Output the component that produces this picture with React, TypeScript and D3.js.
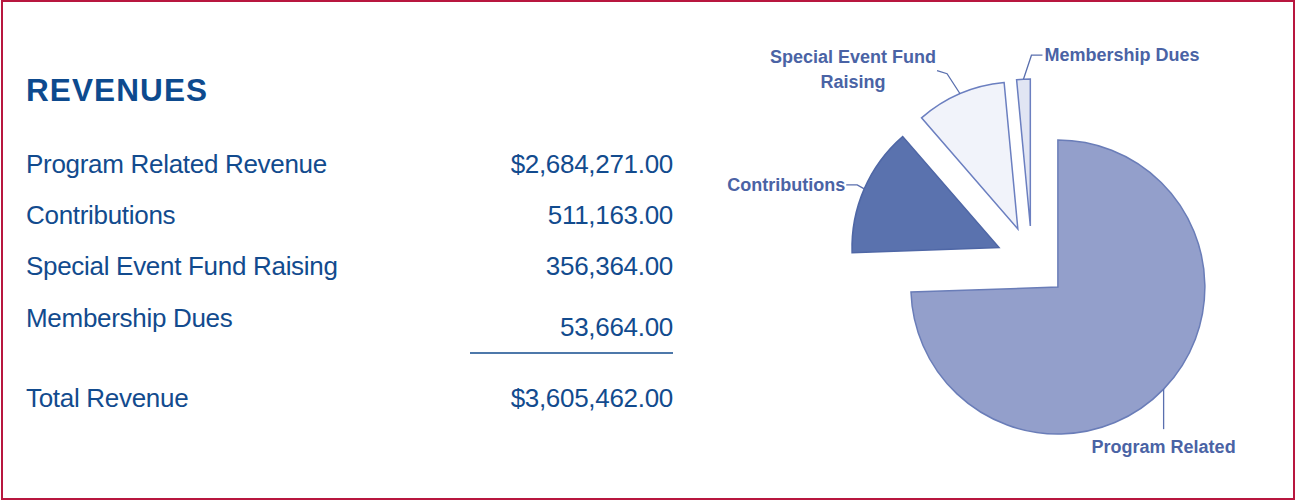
import React from "react";
import * as d3 from "d3";

// ---- data ----
const categories = [
  "Program Related Revenue",
  "Contributions",
  "Special Event Fund Raising",
  "Membership Dues",
];
const values = [2684271, 511163, 356364, 53664];
const totalLabel = "Total Revenue";
const pieLabels = [["Program Related"], ["Contributions"], ["Special Event Fund", "Raising"], ["Membership Dues"]];
const sliceFills = ["#939fcb", "#5a72ae", "#f1f3fa", "#e1e5f3"];
const sliceStrokes = ["#6a7db8", "#4f67a6", "#6b7fc0", "#6b7fc0"];

const W = 1296;
const H = 501;
const TEXT = "#124b8e";
const LABEL = "#4a63a5";
const fmt = d3.format(",.2f");

export default function App() {
  const total = d3.sum(values);
  const cx = 1032, cy = 262, R = 147, explode = 36;
  const pie = d3.pie<number>().sort(null).startAngle(0).endAngle(2 * Math.PI);
  const arcs = pie(values);
  const arcGen = d3.arc<d3.PieArcDatum<number>>().innerRadius(0).outerRadius(R);

  const rowBase = [173, 224, 275, 327];
  const valueBase = [173, 224, 275, 336];

  const slices = arcs.map((a, i) => {
    const mid = (a.startAngle + a.endAngle) / 2;
    const dx = explode * Math.sin(mid), dy = -explode * Math.cos(mid);
    const ox = cx + dx, oy = cy + dy;
    const p0: [number, number] = [ox + R * Math.sin(mid), oy - R * Math.cos(mid)];
    let pts: [number, number][] = [];
    let tx = 0, ty = 0, anchor = "middle";
    if (i === 0) {
      pts = [p0, [p0[0], p0[1] + 40]];
      tx = p0[0]; ty = p0[1] + 64; anchor = "middle";
    } else if (i === 1) {
      const p1: [number, number] = [p0[0] - 7, p0[1] - 4];
      const p2: [number, number] = [p1[0] - 11, p1[1]];
      pts = [p0, p1, p2];
      tx = p2[0] - 1; ty = p2[1] + 6; anchor = "end";
    } else if (i === 2) {
      const p1: [number, number] = [p0[0] - 13, p0[1] - 20];
      const p2: [number, number] = [p1[0] - 10, p1[1] - 3];
      pts = [p0, p1, p2];
      tx = 853; ty = p0[1] - 31; anchor = "middle";
    } else {
      const p1: [number, number] = [p0[0] + 8, p0[1] - 24];
      const p2: [number, number] = [p1[0] + 11, p1[1]];
      pts = [p0, p1, p2];
      tx = p2[0] + 2; ty = p2[1] + 6; anchor = "start";
    }
    return { a, i, ox, oy, pts, tx, ty, anchor };
  });

  const line = d3.line();

  return (
    <svg
      width={W}
      height={H}
      style={{ position: "absolute", left: 0, top: 0, background: "#fff" }}
      fontFamily="'Liberation Sans', Arial, sans-serif"
    >
      <rect x={2} y={1} width={W - 4} height={H - 3} fill="#fff" stroke="#b8173f" strokeWidth={2} />
      <text x={26} y={101} fontSize={31.5} fontWeight="bold" fill="#0d4a8e" letterSpacing={1.1}>
        REVENUES
      </text>
      {categories.map((c, i) => (
        <g key={c}>
          <text x={26} y={rowBase[i]} fontSize={26} letterSpacing={-0.3} fill={TEXT}>{c}</text>
          <text x={673} y={valueBase[i]} fontSize={26} letterSpacing={-0.3} fill={TEXT} textAnchor="end">
            {(i === 0 ? "$" : "") + fmt(values[i])}
          </text>
        </g>
      ))}
      <line x1={470} x2={673} y1={353} y2={353} stroke={TEXT} strokeWidth={1.5} />
      <text x={26} y={407} fontSize={26} letterSpacing={-0.3} fill={TEXT}>{totalLabel}</text>
      <text x={673} y={407} fontSize={26} letterSpacing={-0.3} fill={TEXT} textAnchor="end">{"$" + fmt(total)}</text>

      {slices.map((s) => (
        <g key={s.i}>
          <path
            d={arcGen(s.a) || ""}
            transform={`translate(${s.ox},${s.oy})`}
            fill={sliceFills[s.i]}
            stroke={sliceStrokes[s.i]}
            strokeWidth={1.5}
            strokeLinejoin="miter"
          />
          <path d={line(s.pts) || ""} fill="none" stroke="#5a6fae" strokeWidth={1.3} />
          <text
            x={s.tx}
            y={s.ty}
            fontSize={18}
            fontWeight="bold"
            fill={LABEL}
            textAnchor={s.anchor}
          >
            {pieLabels[s.i].map((t, k) => (
              <tspan key={k} x={s.tx} dy={k === 0 ? 0 : 25}>{t}</tspan>
            ))}
          </text>
        </g>
      ))}
    </svg>
  );
}
